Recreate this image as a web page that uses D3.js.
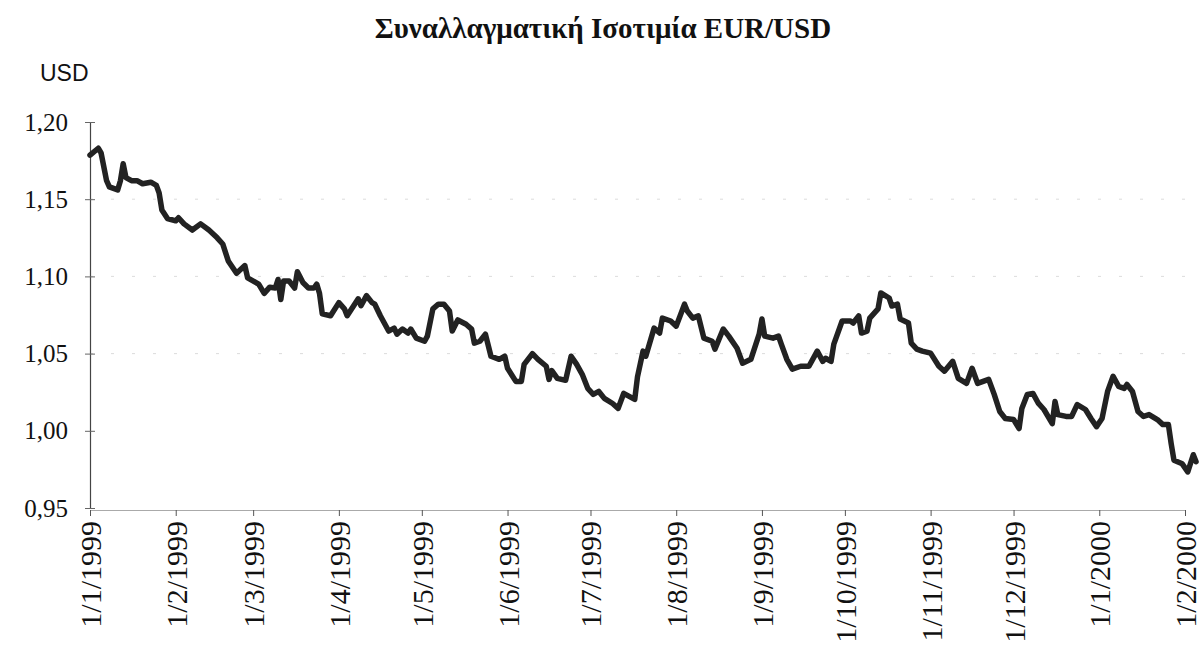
<!DOCTYPE html>
<html>
<head>
<meta charset="utf-8">
<script src="https://cdn.jsdelivr.net/npm/d3@7"></script>
<style>
  html, body { margin: 0; padding: 0; background: #fff; }
  svg { display: block; }
</style>
</head>
<body>
<svg id="chart" width="1199" height="664"></svg>
<script>
// ---- data ----
const title = "Συναλλαγματική Ισοτιμία EUR/USD";
const unitLabel = "USD";
const dates = [
  "1999-01-01","1999-01-04","1999-01-05","1999-01-07","1999-01-08","1999-01-11","1999-01-12","1999-01-13","1999-01-14","1999-01-16",
  "1999-01-18","1999-01-20","1999-01-23","1999-01-25","1999-01-26","1999-01-27","1999-01-29","1999-02-01","1999-02-02","1999-02-04",
  "1999-02-07","1999-02-10","1999-02-13","1999-02-16","1999-02-18","1999-02-20","1999-02-23","1999-02-26","1999-02-27","1999-03-03",
  "1999-03-05","1999-03-07","1999-03-09","1999-03-10","1999-03-11","1999-03-12","1999-03-14","1999-03-16","1999-03-17","1999-03-19",
  "1999-03-21","1999-03-23","1999-03-24","1999-03-25","1999-03-26","1999-03-29","1999-04-01","1999-04-03","1999-04-04","1999-04-06",
  "1999-04-08","1999-04-09","1999-04-11","1999-04-13","1999-04-14","1999-04-16","1999-04-19","1999-04-21","1999-04-22","1999-04-24",
  "1999-04-26","1999-04-27","1999-04-29","1999-05-02","1999-05-03","1999-05-05","1999-05-07","1999-05-09","1999-05-11","1999-05-12",
  "1999-05-14","1999-05-17","1999-05-19","1999-05-20","1999-05-22","1999-05-24","1999-05-26","1999-05-29","1999-05-31","1999-06-01",
  "1999-06-04","1999-06-06","1999-06-07","1999-06-10","1999-06-12","1999-06-15","1999-06-16","1999-06-17","1999-06-19","1999-06-22",
  "1999-06-24","1999-06-26","1999-06-28","1999-06-30","1999-07-02","1999-07-04","1999-07-06","1999-07-09","1999-07-11","1999-07-13",
  "1999-07-15","1999-07-17","1999-07-18","1999-07-20","1999-07-21","1999-07-24","1999-07-26","1999-07-27","1999-07-30","1999-08-01",
  "1999-08-04","1999-08-05","1999-08-07","1999-08-09","1999-08-11","1999-08-14","1999-08-15","1999-08-18","1999-08-20","1999-08-23",
  "1999-08-25","1999-08-28","1999-08-31","1999-09-01","1999-09-02","1999-09-05","1999-09-07","1999-09-08","1999-09-10","1999-09-12",
  "1999-09-15","1999-09-18","1999-09-21","1999-09-23","1999-09-24","1999-09-26","1999-09-27","1999-09-30","1999-10-03","1999-10-04",
  "1999-10-06","1999-10-07","1999-10-09","1999-10-10","1999-10-13","1999-10-14","1999-10-17","1999-10-18","1999-10-20","1999-10-21",
  "1999-10-24","1999-10-25","1999-10-27","1999-10-29","1999-11-01","1999-11-04","1999-11-06","1999-11-09","1999-11-11","1999-11-14",
  "1999-11-16","1999-11-18","1999-11-22","1999-11-24","1999-11-26","1999-11-28","1999-12-01","1999-12-03","1999-12-04","1999-12-06",
  "1999-12-08","1999-12-10","1999-12-12","1999-12-15","1999-12-16","1999-12-17","1999-12-20","1999-12-22","1999-12-24","1999-12-27",
  "1999-12-29","1999-12-31","2000-01-02","2000-01-04","2000-01-06","2000-01-08","2000-01-10","2000-01-11","2000-01-13","2000-01-15",
  "2000-01-17","2000-01-19","2000-01-22","2000-01-24","2000-01-26","2000-01-27","2000-01-28","2000-01-31","2000-02-02","2000-02-04",
  "2000-02-05"
];
const rates = [
  1.1785,1.183,1.180,1.162,1.158,1.156,1.162,1.173,1.164,1.162,
  1.162,1.160,1.161,1.159,1.154,1.143,1.1375,1.136,1.138,1.134,
  1.130,1.134,1.130,1.125,1.121,1.110,1.102,1.107,1.099,1.095,
  1.089,1.093,1.0925,1.098,1.085,1.097,1.097,1.0925,1.103,1.096,
  1.0925,1.0925,1.095,1.089,1.0757,1.0745,1.083,1.079,1.0745,1.080,
  1.0855,1.081,1.0875,1.083,1.082,1.0745,1.0646,1.0665,1.0626,1.0659,
  1.0633,1.0659,1.060,1.058,1.0613,1.079,1.082,1.082,1.0776,1.0646,
  1.0718,1.069,1.0659,1.0568,1.058,1.0626,1.0483,1.0463,1.0483,1.0405,
  1.032,1.032,1.043,1.050,1.0463,1.0418,1.0333,1.039,1.034,1.0327,
  1.0483,1.043,1.0366,1.0275,1.0236,1.0255,1.021,1.0177,1.0145,1.0242,
  1.0223,1.0203,1.035,1.0516,1.0483,1.0665,1.0633,1.073,1.0711,1.0678,
  1.082,1.0776,1.073,1.0744,1.060,1.058,1.0529,1.0659,1.0613,1.0535,
  1.0438,1.0463,1.0626,1.0724,1.0613,1.060,1.0613,1.0561,1.0463,1.0399,
  1.0418,1.0418,1.0516,1.045,1.047,1.045,1.0561,1.0711,1.0711,1.0698,
  1.0744,1.0633,1.0646,1.073,1.079,1.0893,1.086,1.0808,1.082,1.0724,
  1.0698,1.0568,1.0529,1.0516,1.0503,1.0418,1.0386,1.045,1.034,1.0307,
  1.0405,1.0307,1.0333,1.0236,1.0125,1.008,1.0073,1.0015,1.0145,1.0236,
  1.0242,1.0177,1.0138,1.0047,1.019,1.0105,1.0093,1.0093,1.017,1.0138,
  1.008,1.0027,1.008,1.0255,1.0353,1.0288,1.0275,1.030,1.0255,1.0125,
  1.0093,1.0105,1.0073,1.004,1.004,0.9917,0.981,0.9786,0.9734,0.9845,
  0.980
];
const yTickValues = [0.95, 1.00, 1.05, 1.10, 1.15, 1.20];
const yTickLabels = ["0,95", "1,00", "1,05", "1,10", "1,15", "1,20"];
const xTickDates = ["1999-01-01","1999-02-01","1999-03-01","1999-04-01","1999-05-01","1999-06-01","1999-07-01",
                    "1999-08-01","1999-09-01","1999-10-01","1999-11-01","1999-12-01","2000-01-01","2000-02-01"];
const xTickLabels = ["1/1/1999","1/2/1999","1/3/1999","1/4/1999","1/5/1999","1/6/1999","1/7/1999",
                     "1/8/1999","1/9/1999","1/10/1999","1/11/1999","1/12/1999","1/1/2000","1/2/2000"];

// ---- chart ----
(function () {
const parse = d3.utcParse("%Y-%m-%d");
const series = dates.map((d, i) => ({ date: parse(d), value: rates[i] }));
const tickDates = xTickDates.map(parse);

const svg = d3.select("#chart");
const mLeft = 90, mRight = 1185, mTop = 122, mBottom = 508;

const x = d3.scaleUtc().domain([tickDates[0], tickDates[tickDates.length - 1]]).range([mLeft, mRight]);
const y = d3.scaleLinear().domain([0.95, 1.20]).range([mBottom, mTop]);

// faint gridlines
svg.append("g")
  .selectAll("line")
  .data([1.05, 1.10, 1.15])
  .join("line")
  .attr("x1", mLeft).attr("x2", mRight)
  .attr("y1", d => y(d)).attr("y2", d => y(d))
  .attr("stroke", "#bbb")
  .attr("stroke-width", 1)
  .attr("stroke-dasharray", "3,18")
  .attr("opacity", 0.5);

// Title
svg.append("text")
  .attr("x", 603).attr("y", 38)
  .attr("text-anchor", "middle")
  .attr("font-family", "'Liberation Serif', 'Times New Roman', serif")
  .attr("font-weight", "bold")
  .attr("font-size", 29)
  .attr("fill", "#111")
  .text(title);

// Unit label
svg.append("text")
  .attr("x", 40).attr("y", 81)
  .attr("font-family", "'Liberation Sans', Arial, sans-serif")
  .attr("font-size", 23)
  .attr("fill", "#111")
  .text(unitLabel);

// Y axis
const yAxis = d3.axisLeft(y)
  .tickValues(yTickValues)
  .tickFormat((d, i) => yTickLabels[i])
  .tickSizeInner(5)
  .tickSizeOuter(0)
  .tickPadding(17);
const gy = svg.append("g").attr("transform", `translate(${mLeft},0)`).call(yAxis);
gy.select(".domain").attr("stroke", "#444").attr("stroke-width", 1.2);
gy.selectAll(".tick line").attr("stroke", "#666").attr("x2", 5).attr("x1", -5);
gy.selectAll(".tick text")
  .attr("font-family", "'Liberation Serif', 'Times New Roman', serif")
  .attr("font-size", 25)
  .attr("fill", "#111");

// X axis
const xAxis = d3.axisBottom(x)
  .tickValues(tickDates)
  .tickFormat((d, i) => xTickLabels[i])
  .tickSizeInner(6)
  .tickSizeOuter(0)
  .tickPadding(10);
const gx = svg.append("g").attr("transform", `translate(0,${mBottom + 2})`).call(xAxis);
gx.select(".domain").attr("stroke", "#aaa").attr("stroke-width", 1);
gx.selectAll(".tick line").attr("stroke", "#555");
gx.selectAll(".tick text")
  .attr("font-family", "'Liberation Serif', 'Times New Roman', serif")
  .attr("font-size", 30)
  .attr("fill", "#111")
  .attr("text-anchor", "end")
  .attr("transform", "rotate(-90)")
  .attr("x", -11)
  .attr("y", 0)
  .attr("dy", "0.35em");

// Line
const line = d3.line()
  .x(d => x(d.date))
  .y(d => y(d.value))
  .curve(d3.curveLinear);

svg.append("path")
  .datum(series)
  .attr("fill", "none")
  .attr("stroke", "#222")
  .attr("stroke-width", 5.5)
  .attr("stroke-linejoin", "round")
  .attr("stroke-linecap", "round")
  .attr("d", line);
})();
</script>
</body>
</html>
